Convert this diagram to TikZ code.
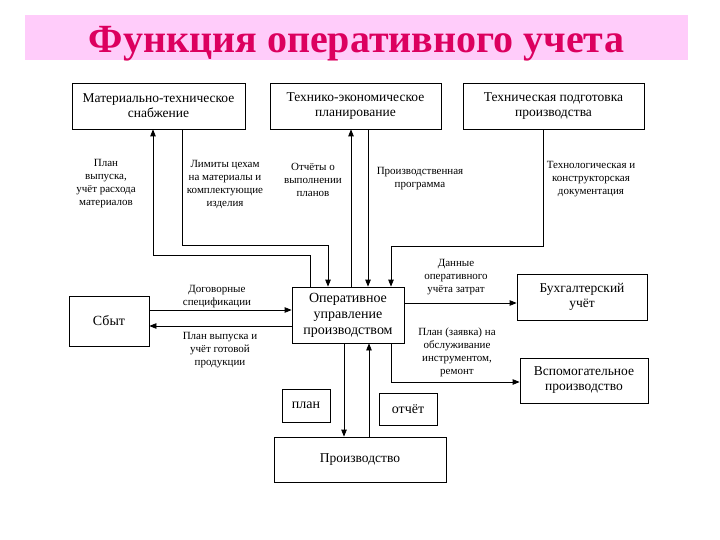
\documentclass[tikz,border=0pt]{standalone}
\usepackage{fontspec}
\setmainfont{Liberation Serif}
\usepackage{xcolor}
\usepackage{tikz}
\usetikzlibrary{arrows.meta, positioning}
\definecolor{bandpink}{RGB}{255,204,250}
\definecolor{titlered}{RGB}{220,0,95}

\begin{document}
\begin{tikzpicture}[
        x=1pt, y=-1pt,
        >={Triangle[length=7pt, width=5.5pt]},
        block/.style={draw, rectangle, line width=0.75pt, align=center, inner sep=1pt,
            font=\fontsize{13.5}{15}\selectfont},
        bigblock/.style={block, font=\fontsize{14}{16}\selectfont},
        line/.style={draw, line width=0.75pt, ->},
        note/.style={align=center, inner sep=0pt, font=\fontsize{11}{13}\selectfont},
        title/.style={fill=bandpink, text=titlered, minimum width=663pt, minimum height=45pt,
            inner sep=0pt, text height=36pt, text depth=5pt,
            font=\fontsize{40}{42}\selectfont\bfseries},
    ]
        \useasboundingbox (0,0) rectangle (720,540);
        \node[title] (head) at (356.5,37.5) {Функция оперативного учета};

        \node[block, minimum width=173pt, minimum height=46pt] (mts) at (158.5,106)
            {Материально-техническое\\снабжение};
        \node[block, minimum width=171pt, minimum height=46pt] (tep) at (355.5,106)
            {Технико-экономическое\\планирование};
        \node[block, minimum width=181pt, minimum height=46pt] (tpp) at (553.5,106)
            {Техническая подготовка\\производства};
        \node[bigblock, minimum width=112pt, minimum height=56pt] (op) at (348,315)
            {Оперативное\\управление\\производством};
        \node[bigblock, minimum width=80pt, minimum height=50pt] (sbyt) at (109,321) {Сбыт};
        \node[block, minimum width=130pt, minimum height=46pt] (buh) at (582,297)
            {Бухгалтерский\\учёт};
        \node[block, minimum width=128pt, minimum height=45pt] (vsp) at (584,380.5)
            {Вспомогательное\\производство};
        \node[bigblock, minimum width=48pt, minimum height=33pt] (plan) at (306,405.5) {план};
        \node[bigblock, minimum width=58pt, minimum height=32pt] (otchet) at (408,409) {отчёт};
        \node[block, minimum width=172pt, minimum height=45pt] (proizv) at (360,459.5)
            {Производство};

        \foreach \from/\to/\x in {op.north/tep.south/351, tep.south/op.north/368,
                op.south/proizv.north/344, proizv.north/op.south/369}
            \path[line] (\from -| \x,0) -- (\to -| \x,0);
        \foreach \from/\to/\y in {sbyt.east/op.west/310, op.west/sbyt.east/326,
                op.east/buh.west/303}
            \path[line] (\from |- 0,\y) -- (\to |- 0,\y);

        \path[line] (op.north -| 310,0) |- (153,255) -- (mts.south -| 153,0);
        \path[line] (mts.south -| 182,0) -- (182,245) -| (op.north -| 328,0);
        \path[line] (tpp.south -| 543,0) |- (391,246) -- (op.north -| 391,0);
        \path[line] (op.south -| 391,0) |- (vsp.west |- 0,382);

        \node[note] at (106,184) {План\\выпуска,\\учёт расхода\\материалов};
        \node[note] at (225,184) {Лимиты цехам\\на материалы и\\комплектующие\\изделия};
        \node[note] at (313,180) {Отчёты о\\выполнении\\планов};
        \node[note] at (420,179) {Производственная\\программа};
        \node[note] at (591,179) {Технологическая и\\конструкторская\\документация};
        \node[note] at (217,296.5) {Договорные\\спецификации};
        \node[note] at (220,350) {План выпуска и\\учёт готовой\\продукции};
        \node[note] at (456,277) {Данные\\оперативного\\учёта затрат};
        \node[note] at (457,352.5) {План (заявка) на\\обслуживание\\инструментом,\\ремонт};
    \end{tikzpicture}
\end{document}
